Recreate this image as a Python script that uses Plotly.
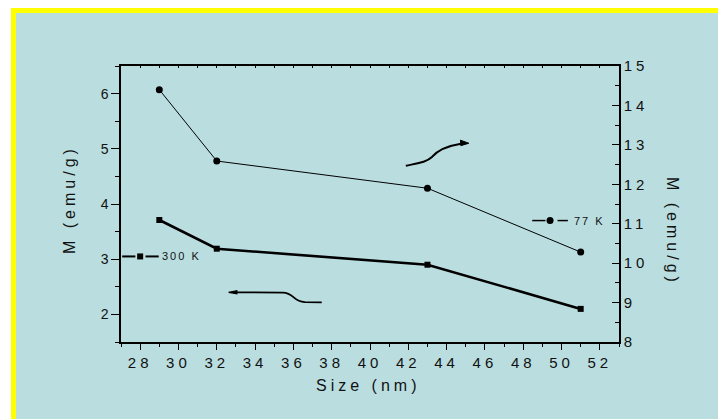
import plotly.graph_objects as go

# Particle size (nm) and magnetisation at two temperatures
sizes = [29, 32, 43, 51]
m_300K = [3.71, 3.19, 2.90, 2.10]    # left axis, emu/g
m_77K = [14.40, 12.59, 11.90, 10.28]  # right axis, emu/g

x_ticks = list(range(28, 54, 2))
y_left_ticks = [2, 3, 4, 5, 6]
y_right_ticks = list(range(8, 16))

BG = "#BADEE0"
FONT = "Liberation Sans, Arial, sans-serif"
INK = "#111111"

fig = go.Figure()

# 300 K series (thick line, squares) on the left axis
fig.add_trace(go.Scatter(
    x=sizes, y=m_300K, mode="lines+markers", xaxis="x", yaxis="y",
    line=dict(color="black", width=2.6),
    marker=dict(symbol="square", size=6, color="black"),
    showlegend=False, hoverinfo="skip"))

# 77 K series (thin line, circles) on the right axis
fig.add_trace(go.Scatter(
    x=sizes, y=m_77K, mode="lines+markers", xaxis="x", yaxis="y2",
    line=dict(color="black", width=1),
    marker=dict(symbol="circle", size=7, color="black"),
    showlegend=False, hoverinfo="skip"))

# inline legend keys
fig.add_trace(go.Scatter(
    x=[27.06, 27.75, None, 28.28, 28.97], y=[3.05, 3.05, None, 3.05, 3.05],
    mode="lines", xaxis="x", yaxis="y", line=dict(color="black", width=2),
    showlegend=False, hoverinfo="skip"))
fig.add_trace(go.Scatter(
    x=[28.0], y=[3.05], mode="markers", xaxis="x", yaxis="y",
    marker=dict(symbol="square", size=6, color="black"),
    showlegend=False, hoverinfo="skip"))
fig.add_trace(go.Scatter(
    x=[48.47, 49.16, None, 49.79, 50.33], y=[11.08, 11.08, None, 11.08, 11.08],
    mode="lines", xaxis="x", yaxis="y2", line=dict(color="black", width=1.5),
    showlegend=False, hoverinfo="skip"))
fig.add_trace(go.Scatter(
    x=[49.40], y=[11.08], mode="markers", xaxis="x", yaxis="y2",
    marker=dict(symbol="circle", size=7, color="black"),
    showlegend=False, hoverinfo="skip"))

# top frame axis (no labels)
fig.add_trace(go.Scatter(x=[27], y=[15], xaxis="x2", yaxis="y2", mode="markers",
                         marker=dict(opacity=0), showlegend=False, hoverinfo="skip"))

shapes = [
    # yellow frame and blue panel
    dict(type="rect", xref="paper", yref="paper", x0=-0.2209, x1=1.61, y0=-0.31, y1=1.2101,
         fillcolor="#FFFF00", line=dict(width=0), layer="below"),
    dict(type="rect", xref="paper", yref="paper", x0=-0.2108, x1=1.61, y0=-0.31, y1=1.1920,
         fillcolor=BG, line=dict(width=0), layer="below"),
    # curved pointer towards the right axis
    dict(type="path", xref="x", yref="y2",
         path="M 41.87,12.47 C 42.55,12.54 42.95,12.56 43.25,12.70 "
              "C 43.6,12.90 44.1,12.98 44.75,13.03",
         line=dict(color="black", width=2)),
    dict(type="path", xref="x", yref="y2",
         path="M 45.16,13.04 L 44.72,13.12 L 44.74,12.98 Z",
         fillcolor="black", line=dict(color="black", width=1)),
    # curved pointer towards the left axis
    dict(type="path", xref="x", yref="y",
         path="M 32.95,2.40 L 35.45,2.395 C 36.05,2.39 35.95,2.235 36.6,2.222 L 37.48,2.218",
         line=dict(color="black", width=1.8)),
    dict(type="path", xref="x", yref="y",
         path="M 32.62,2.40 L 33.05,2.428 L 33.05,2.372 Z",
         fillcolor="black", line=dict(color="black", width=1.2)),
]

annotations = [
    dict(text="300 K", x=29.29, y=3.05, xref="x", yref="y", xanchor="left", yanchor="middle",
         showarrow=False, font=dict(family=FONT, size=11, color=INK)),
    dict(text="77 K", x=50.74, y=11.08, xref="x", yref="y2", xanchor="left", yanchor="middle",
         showarrow=False, font=dict(family=FONT, size=11, color=INK)),
    dict(text="M (emu/g)", x=-0.1024, y=0.5145, xref="paper", yref="paper", textangle=-90,
         xanchor="center", yanchor="middle", showarrow=False,
         font=dict(family=FONT, size=16, color=INK)),
    dict(text="M (emu/g)", x=1.1064, y=0.3986, xref="paper", yref="paper", textangle=90,
         xanchor="center", yanchor="middle", showarrow=False,
         font=dict(family=FONT, size=16, color=INK)),
    dict(text="Size (nm)", x=0.496, y=-0.1594, xref="paper", yref="paper",
         xanchor="center", yanchor="middle", showarrow=False,
         font=dict(family=FONT, size=16, color=INK)),
]

fig.update_layout(
    width=718, height=419,
    margin=dict(l=121, r=99, t=66, b=77),
    paper_bgcolor="white", plot_bgcolor="rgba(0,0,0,0)",
    shapes=shapes, annotations=annotations,
    xaxis=dict(range=[27, 53], tickvals=x_ticks, ticks="outside", ticklen=6, tickwidth=1.3,
               tickcolor="black", showline=True, linecolor="black", linewidth=1.5,
               showgrid=False, zeroline=False,
               tickfont=dict(family=FONT, size=15, color=INK),
               minor=dict(dtick=1, tick0=27, ticks="outside", ticklen=3, tickwidth=1.2,
                          tickcolor="black", showgrid=False)),
    xaxis2=dict(range=[27, 53], overlaying="x", side="top", showticklabels=False,
                ticks="inside", ticklen=2, dtick=1, tick0=27, tickcolor="black", tickwidth=1,
                showline=True, linecolor="black", linewidth=1.5, showgrid=False, zeroline=False),
    yaxis=dict(range=[1.5, 6.5], tickvals=y_left_ticks, ticks="outside", ticklen=8, tickwidth=1.3,
               tickcolor="black", showline=True, linecolor="black", linewidth=1.5,
               showgrid=False, zeroline=False,
               tickfont=dict(family=FONT, size=14, color=INK),
               minor=dict(dtick=0.5, tick0=1.5, ticks="outside", ticklen=4, tickwidth=1.2,
                          tickcolor="black", showgrid=False)),
    yaxis2=dict(range=[8, 15], tickvals=y_right_ticks, overlaying="y", side="right",
                ticks="inside", ticklen=7, tickwidth=1.3, tickcolor="black",
                showline=True, linecolor="black", linewidth=1.5,
                showgrid=False, zeroline=False,
                tickfont=dict(family=FONT, size=15, color=INK),
                minor=dict(dtick=0.5, tick0=8, ticks="inside", ticklen=4, tickwidth=1.2,
                           tickcolor="black", showgrid=False)),
)

# wide letter spacing for tick labels and titles
spacing_js = """
var gd = document.getElementById('{plot_id}');
function spreadText() {
  gd.querySelectorAll('.xtick text, .y2tick text').forEach(function (t) {
    t.style.letterSpacing = '4px';
  });
  gd.querySelectorAll('.annotation-text').forEach(function (t) {
    t.style.letterSpacing = (t.style.fontSize === '16px') ? '4px' : '2px';
  });
}
spreadText();
gd.on('plotly_afterplot', spreadText);
"""

fig.write_html("out.html", post_script=spacing_js)
